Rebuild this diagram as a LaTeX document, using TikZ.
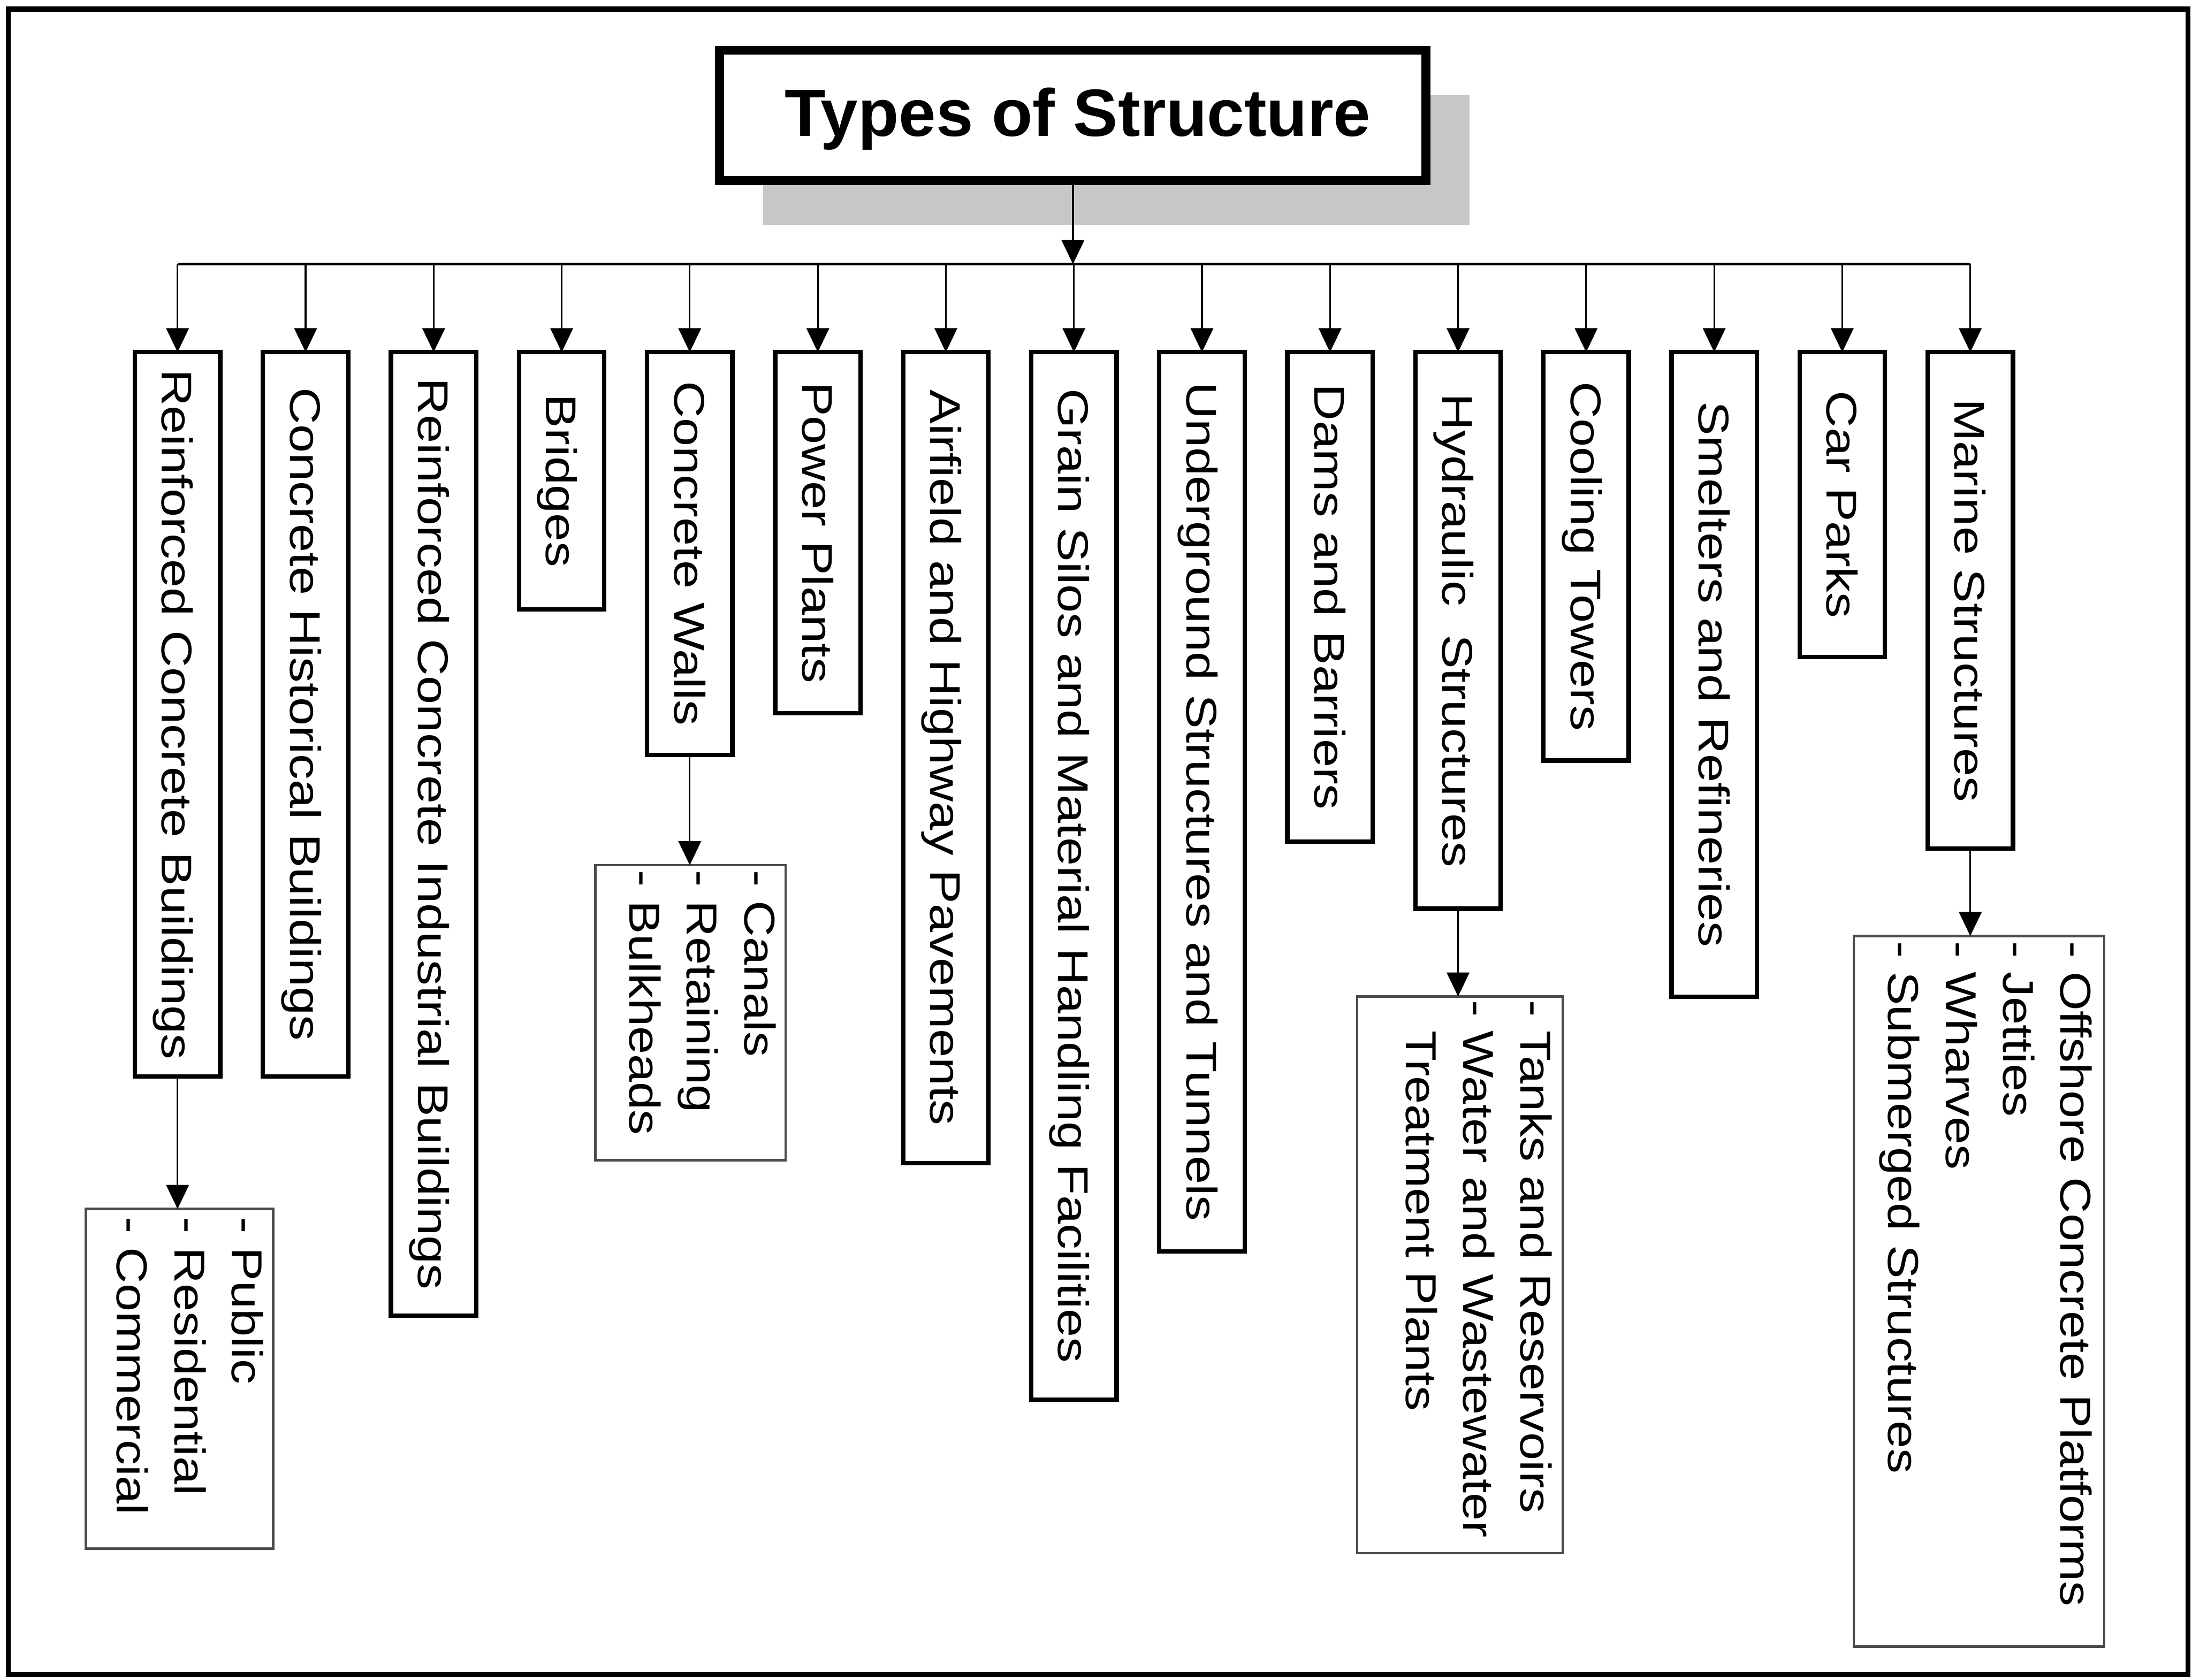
\documentclass[tikz,border=0pt]{standalone}
\usepackage{fontspec}
\setmainfont{Liberation Sans}
\newfontfamily\boxfont[FakeStretch=1.19]{Liberation Sans}
\newfontfamily\listfont[FakeStretch=1.16]{Liberation Sans}
\usetikzlibrary{arrows.meta,shadows}

\begin{document}
\begin{tikzpicture}[x=0.01cm,y=-0.01cm,
  arr/.style={line width=0.35pt,-{Triangle[width=4.6pt,length=4.9pt]}},
  busline/.style={line width=0.5pt},
  titlebox/.style={draw,line width=1.85pt,fill=white,inner sep=0pt,
    minimum width=5.05cm,minimum height=0.93cm,
    text height=9.9pt,text depth=1.4pt,
    font=\bfseries\fontsize{13.6pt}{16pt}\selectfont,
    drop shadow={shadow xshift=0.31cm,shadow yshift=-0.32cm,fill=black!22,opacity=1}},
  mainbox/.style={draw,line width=0.9pt,fill=white,rotate=-90,anchor=west,
    minimum height=0.61cm,inner sep=0pt,outer sep=0pt,
    text height=6.26pt,text depth=0pt,
    font=\boxfont\fontsize{8.74pt}{10.5pt}\selectfont},
  subbox/.style={draw=black!70,line width=0.5pt,rotate=-90,anchor=west,
    inner sep=0pt,outer sep=0pt},
  sublist/.style={rotate=-90,anchor=north west,align=left,inner sep=0pt,
    font=\listfont\fontsize{8.8pt}{11.67pt}\selectfont}
]
\useasboundingbox (0,0) rectangle (1568,1202);

% outer frame
\draw[line width=1pt] (6,6.5) rectangle (1565,1198);

% root
\node[titlebox] (title) at (767.5,82.5) {\hspace{0.07cm}Types of Structure};

% first level
\node[mainbox,minimum width=5.18cm] (b1)  at (127,252)    {Reinforced Concrete Buildings};
\node[mainbox,minimum width=5.18cm] (b2)  at (218.6,252)  {Concrete Historical Buildings};
\node[mainbox,minimum width=6.89cm] (b3)  at (310.2,252)  {Reinforced Concrete Industrial Buildings};
\node[mainbox,minimum width=1.84cm] (b4)  at (401.8,252)  {Bridges};
\node[mainbox,minimum width=2.88cm] (b5)  at (493.4,252)  {Concrete Walls};
\node[mainbox,minimum width=2.58cm] (b6)  at (585,252)    {Power Plants};
\node[mainbox,minimum width=5.80cm] (b7)  at (676.6,252)  {Airfield and Highway Pavements};
\node[mainbox,minimum width=7.49cm] (b8)  at (768.2,252)  {Grain Silos and Material Handling Facilities};
\node[mainbox,minimum width=6.43cm] (b9)  at (859.8,252)  {Underground Structures and Tunnels};
\node[mainbox,minimum width=3.50cm] (b10) at (951.4,252)  {Dams and Barriers};
\node[mainbox,minimum width=3.98cm] (b11) at (1043,252)   {Hydraulic\ \ Structures};
\node[mainbox,minimum width=2.92cm] (b12) at (1134.6,252) {Cooling Towers};
\node[mainbox,minimum width=4.61cm] (b13) at (1226.2,252) {Smelters and Refineries};
\node[mainbox,minimum width=2.18cm] (b14) at (1317.8,252) {Car Parks};
\node[mainbox,minimum width=3.55cm] (b15) at (1409.4,252) {Marine Structures};

% second level frames
\node[subbox,minimum width=2.43cm,minimum height=1.34cm] (s1) at (128.5,865)  {};
\node[subbox,minimum width=2.11cm,minimum height=1.36cm] (s2) at (494,619)    {};
\node[subbox,minimum width=3.98cm,minimum height=1.47cm] (s3) at (1044.4,713) {};
\node[subbox,minimum width=5.08cm,minimum height=1.79cm] (s4) at (1415.6,669.7) {};

% second level lists
\node[sublist] (t1) at ([shift={(-6.5,5)}]s1.north west)
  {- Public\\- Residential\\- Commercial};
\node[sublist] (t2) at ([shift={(-6.4,3)}]s2.north west)
  {- Canals\\- Retaining\\- Bulkheads};
\node[sublist] (t3) at ([shift={(-7,2)}]s3.north west)
  {- Tanks and Reservoirs\\- Water and Wastewater\\\hphantom{- }Treatment Plants};
\node[sublist] (t4) at ([shift={(-8,3)}]s4.north west)
  {- Offshore Concrete Platforms\\- Jetties\\- Wharves\\- Submerged Structures};

% connectors
\coordinate (bus) at (767,189);
\draw[busline] (b1.west |- bus) -- (b15.west |- bus);
\draw[arr] (title.south) -- (title.south |- bus);
\foreach \i in {1,...,15}
  \draw[arr] (b\i.west |- bus) -- (b\i.west);
\draw[arr] (b1.east)  -- (b1.east  |- s1.west);
\draw[arr] (b5.east)  -- (b5.east  |- s2.west);
\draw[arr] (b11.east) -- (b11.east |- s3.west);
\draw[arr] (b15.east) -- (b15.east |- s4.west);
\end{tikzpicture}
\end{document}
